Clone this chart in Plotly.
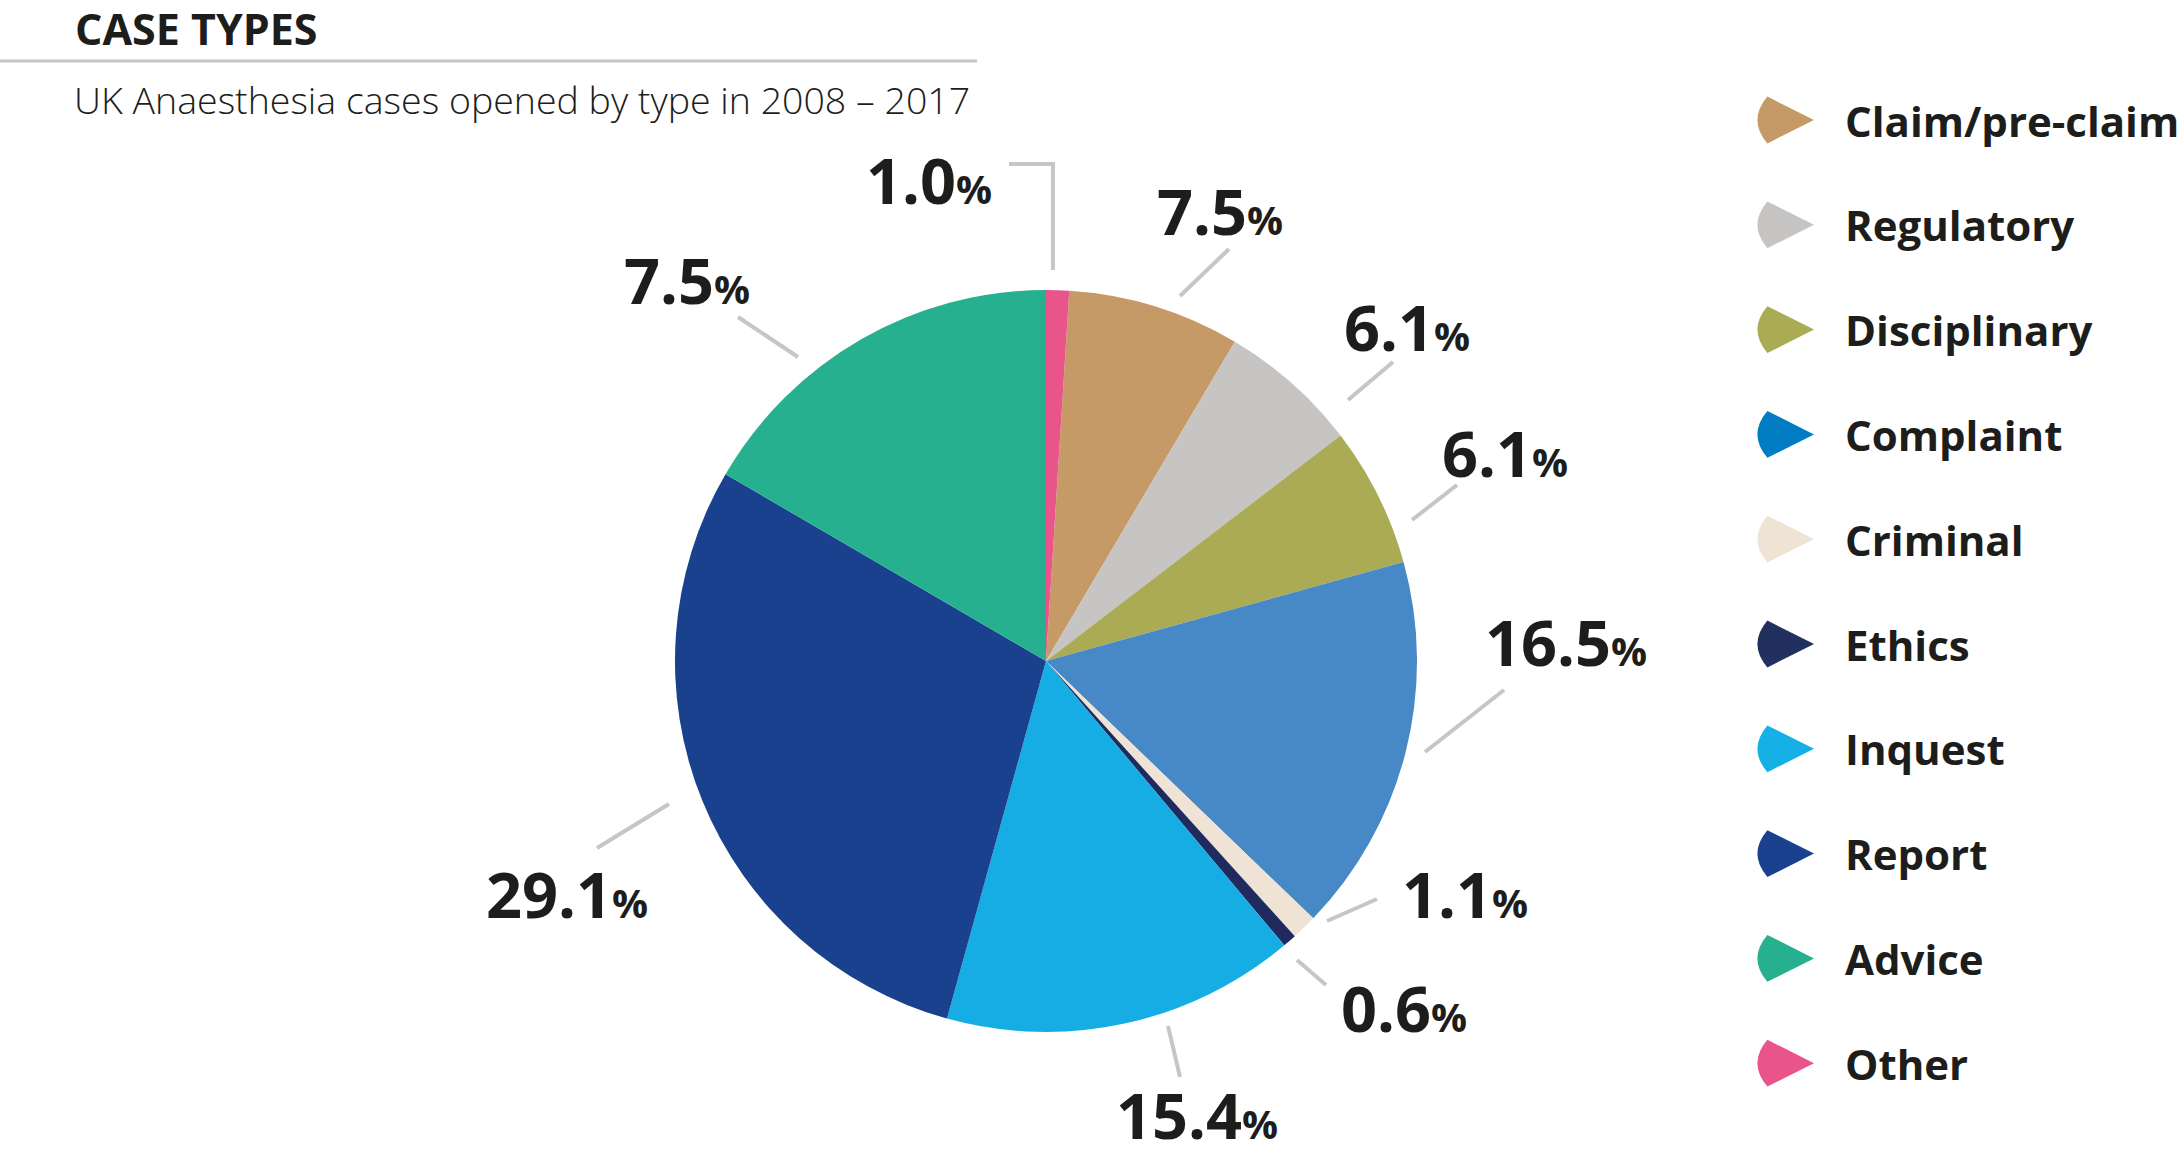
import plotly.graph_objects as go

# ---------------- data ----------------
categories = ["Claim/pre-claim", "Regulatory", "Disciplinary", "Complaint", "Criminal",
              "Ethics", "Inquest", "Report", "Advice", "Other"]
# slice sizes as drawn in the reference (percent)
shares = [7.5, 6.1, 6.1, 16.5, 1.1, 0.6, 15.4, 29.1, 16.6, 1.0]
# label texts printed next to the slices (as in the reference)
label_values = ["7.5", "6.1", "6.1", "16.5", "1.1", "0.6", "15.4", "29.1", "7.5", "1.0"]

slice_colors = ["#C69A66", "#C6C5C4", "#ABAA55", "#4788C7", "#EFE3D5",
                "#1F2B5E", "#15ADE4", "#19418E", "#27B08F", "#E9548A"]
legend_colors = ["#C69A66", "#C6C5C4", "#ABAA55", "#007CC2", "#EFE3D5",
                 "#22305F", "#15B0E6", "#19418E", "#27B08F", "#E9548A"]

# ---------------- layout constants (page pixels) ----------------
W, H = 2184, 1156
CX, CY, R = 1046, 661, 371
FONT = "Open Sans"
INK = "#1d1d1b"
LINE = "#c6c6c6"

# label centres and leader lines, relative to pie centre (dx, dy in px)
label_pos = [(174, -450), (361, -334), (459, -208), (520, -20), (419, 232),
             (358, 346), (151, 453), (-479, 232), (-359, -382), (-117, -481)]
leader_lines = [
    [(134, -365), (183, -412)],
    [(302, -261), (347, -299)],
    [(366, -141), (411, -176)],
    [(379, 91), (458, 29)],
    [(281, 260), (331, 238)],
    [(251, 299), (280, 324)],
    [(122, 365), (134, 416)],
    [(-377, 143), (-449, 187)],
    [(-248, -304), (-308, -344)],
    [(-37, -497), (7, -497), (7, -391)],
]


def px(x):
    return x / W


def py(y):
    return 1 - y / H


total = sum(shares)
start_rotation = shares[-1] / total * 360  # "Other" sits just left of 12 o'clock

fig = go.Figure()
fig.add_trace(go.Pie(
    labels=categories,
    values=shares,
    sort=False,
    direction="clockwise",
    rotation=start_rotation,
    marker=dict(colors=slice_colors, line=dict(width=0)),
    textinfo="none",
    hoverinfo="label+percent",
    showlegend=False,
    domain=dict(x=[px(CX - R), px(CX + R)], y=[py(CY + R), py(CY - R)]),
))

shapes = []
annotations = []

# title, rule and subtitle
annotations.append(dict(
    text="<b>CASE TYPES</b>", x=px(73), y=py(29), xref="paper", yref="paper",
    xanchor="left", yanchor="middle", showarrow=False,
    font=dict(family=FONT, size=43, color=INK)))
shapes.append(dict(type="line", xref="paper", yref="paper",
                   x0=0, x1=px(977), y0=py(61), y1=py(61),
                   line=dict(color=LINE, width=3)))
annotations.append(dict(
    text="UK Anaesthesia cases opened by type in 2008 – 2017", x=px(72), y=py(100),
    xref="paper", yref="paper", xanchor="left", yanchor="middle", showarrow=False,
    font=dict(family=FONT, size=37.5, color=INK, weight=300)))

# slice labels with leader lines
for val, (dx, dy), pts in zip(label_values, label_pos, leader_lines):
    annotations.append(dict(
        text=f"<b>{val}</b><span style='font-size:40px'><b>%</b></span>",
        x=px(CX + dx), y=py(CY + dy), xref="paper", yref="paper",
        xanchor="center", yanchor="middle", showarrow=False,
        font=dict(family=FONT, size=63, color=INK)))
    path = "M " + " L ".join(f"{px(CX + a):.6f},{py(CY + b):.6f}" for a, b in pts)
    shapes.append(dict(type="path", xref="paper", yref="paper", path=path,
                       line=dict(color=LINE, width=4), fillcolor="rgba(0,0,0,0)"))

# custom legend with wedge icons
LEG_X_APEX = 1814
LEG_Y0, LEG_STEP = 120, 104.8
for i, (name, col) in enumerate(zip(categories, legend_colors)):
    yc = LEG_Y0 + i * LEG_STEP
    ax = LEG_X_APEX
    path = (f"M {px(ax):.6f},{py(yc):.6f} "
            f"L {px(ax - 46.6):.6f},{py(yc - 23.4):.6f} "
            f"Q {px(ax - 66.6):.6f},{py(yc):.6f} {px(ax - 46.6):.6f},{py(yc + 23.4):.6f} Z")
    shapes.append(dict(type="path", xref="paper", yref="paper", path=path,
                       fillcolor=col, line=dict(width=0)))
    annotations.append(dict(
        text=f"<b>{name}</b>", x=px(1843), y=py(yc), xref="paper", yref="paper",
        xanchor="left", yanchor="middle", showarrow=False,
        font=dict(family=FONT, size=42, color=INK)))

fig.update_layout(
    width=W, height=H,
    margin=dict(l=0, r=0, t=0, b=0),
    paper_bgcolor="white", plot_bgcolor="white",
    showlegend=False,
    shapes=shapes,
    annotations=annotations,
)

fig.write_html("out.html", config={"displayModeBar": False},
               post_script="document.body.style.margin='0px';")
